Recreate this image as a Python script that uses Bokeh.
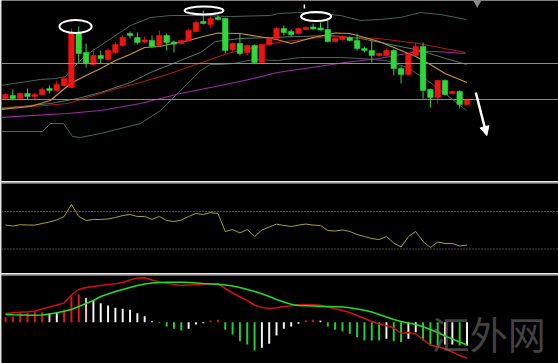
from bokeh.plotting import figure
from bokeh.layouts import column
from bokeh.models import Range1d, Span, Arrow, NormalHead, ColumnDataSource
from bokeh.core.properties import value
from bokeh.embed import file_html
from bokeh.resources import INLINE

# ---------------- data ----------------
opens = [82,85,82,87,84,86,92,90,95,93,148,128,116,125,121,128,135,147,143,139,
         140,135,145,138,137,140,149,159,156,163,162,131,137,128,135,118,136,142,152,149,
         147,151,153,152,151,139,141,143,140,132,130,125,125,130,112,106,125,134,91,83,
         100,87,89,76]
highs = [87,91,88,92,88,93,95,100,104,152,154,137,132,130,132,138,145,149,148,144,
         145,150,147,140,141,152,160,170,164,165,163,138,147,136,136,137,143,153,155,151,
         153,154,157,158,160,143,145,144,147,134,140,128,132,131,114,128,138,138,92,101,
         101,90,90,82]
lows = [81,80,81,81,80,85,87,89,94,92,117,113,115,117,120,127,134,142,136,137,
        133,134,130,128,136,139,148,156,153,160,127,129,125,125,117,117,135,141,145,144,
        146,150,151,150,138,138,140,139,130,128,118,124,124,105,97,105,124,82,73,77,
        85,86,72,75]
closes = [86,82,87,84,86,91,90,96,102,148,127,117,125,122,130,136,143,145,138,140,
          134,145,138,137,140,150,158,157,162,161,130,137,127,135,118,136,142,152,148,146,
          152,153,152,151,139,142,144,140,132,130,125,127,130,112,106,126,134,90,83,100,
          86,89,76,81]

# moving averages / bands: (candle index, value) knots
ma_fast_x = [-0.68,3.4,6.1,8,9,11,13,15,17,19,21,23,25,27,29,32,35,37,39,42,45,47,51,53,56,58,60,63]
ma_fast_y = [71,74,80,91.5,97.5,105,112,120,126,133,134,137,140,144,147.5,147,143.5,141,137,143,147.5,147,139,133,124,116,107,98]
ma_mid_x = [-0.68,6.14,9.83,12.97,17.06,19.8,23.89,26.62,28.67,32.08,36.18,40.27,44.37,48.46,52.56,56.66,60.07,62.94]
ma_mid_y = [72,77,82,88,98,108,120,128,139,142,143,144,145,142,136,130,122,116]
ma_red_x = [-0.68,3.82,8.46,12.97,15.7,18.43,22.1,24.85,27.58,30.3,32.08,37.13,44.1,50.92,56.38,62.8]
ma_red_y = [73,74,77,87,93,98,106,113,120,127,130,138,144,142,137,128]
ma_purple_x = [-0.68,8.46,12.97,18.43,23.89,29.35,33.86,37.13,41.77,46.42,50.92,53.24,56.38,58.7,62.8]
ma_purple_y = [63,67,70,77,87,95,102,108,113,118,122,125,129,129,127]
band_up_x = [-0.68,4.78,6.83,8.19,9.15,10.92,12.97,17.06,19.8,22.53,26.62,30.72,36.18,37.27,40.27,43,45.73,48.46,51.19,53.92,56.66,59.39,62.94]
band_up_y = [95,101,102,104,112,125,135,155,163,165,165,164,165,167,168,167,165,160,161,163,168,166,161]
band_lo_x = [-0.68,5.05,6.14,7.92,9.15,10.24,12.97,18.43,21.16,23.89,26.62,27.99,29.35,31.13,33.86,37.13,40.27,45.73,48.46,51.88,54.88,57.61,60.34,62.94]
band_lo_y = [49,49,57,57,44,43,47,57,70,90,110,116,116,117,121,120,123,123,122,120,113,100,85,70]
level_lines = [117, 81]

rsi = [55.6,54.5,55.9,55.6,55.5,57.2,58.8,60.9,64.7,77.5,64.7,60.4,61.5,61.5,62.0,63.6,65.7,66.8,64.7,64.7,
       61.5,64.7,60.4,59.3,60.9,64.7,67.9,66.8,68.9,67.9,48.7,50.8,47.1,50.8,43.3,50.3,53.5,56.5,55.1,54.0,
       55.5,56.6,55.5,55.1,49.7,49.2,50.3,48.7,45.5,43.3,41.2,40.1,43.3,36.4,32.1,43.3,48.7,38.0,31.6,37.5,
       35.9,35.9,33.2,34.2]
rsi_levels = [70, 30]

hist = [5.0,5.7,9.0,10.0,11.0,10.0,9.0,9.4,12.4,25.7,27.7,24.4,21.7,19.0,16.7,14.4,13.4,12.4,9.0,6.0,
        1.0,-0.8,-4.3,-6.6,-8.3,-6.6,-2.3,-1.0,1.7,2.4,-7.6,-12.3,-19.0,-22.3,-28.3,-25.6,-21.6,-13.3,-6.6,-4.3,
        -1.6,1.7,2.4,1.7,-4.3,-7.6,-9.0,-11.6,-15.0,-18.3,-18.3,-18.3,-16.6,-19.0,-20.0,-16.6,-10.0,-18.3,-23.3,-23.3,
        -22.3,-22.3,-23.3,-23.3]
hist_state = (["up"]*6 + ["fade", "rest"] + ["up"]*3 + ["fade"] + ["rest"]*9 + ["down"]*4 + ["rest"]*3 +
              ["up"]*2 + ["down"]*5 + ["rest"]*6 + ["up"]*2 + ["fade"] + ["down"]*8 + ["rest"] + ["down"]*2 +
              ["rest"]*2 + ["down"]*3 + ["rest"]*2 + ["down"] + ["rest"])
macd = [8.8,9.4,9.9,10.5,11.2,13.2,15.2,17.2,19.2,27.2,32.7,34.7,35.7,36.7,37.7,38.5,39.7,42.2,44.1,44.4,
        42.2,40.3,39.0,37.7,36.7,37.1,37.5,37.9,38.3,38.5,33.7,29.2,25.2,21.7,17.2,14.7,13.7,14.4,15.7,16.4,
        17.4,17.4,17.4,16.9,15.2,13.4,11.7,9.7,6.7,3.7,0.7,-1.7,-3.6,-5.8,-11.3,-10.3,-11.8,-17.3,-22.8,-24.6,
        -26.5,-29.8,-33.3,-36.1]
signal = [7.7,7.4,7.2,7.0,6.9,7.2,8.2,9.4,10.9,12.7,15.7,18.7,21.7,25.7,28.2,30.7,32.7,34.7,36.7,38.2,
          39.1,39.7,39.9,40.0,40.0,39.7,39.2,38.7,38.3,37.9,37.2,36.2,34.7,32.7,30.7,28.4,25.7,22.7,20.2,18.0,
          16.7,16.4,16.1,15.8,15.6,15.4,15.1,14.5,13.2,11.9,10.2,7.7,5.2,2.7,0.7,-0.9,-2.3,-4.6,-7.3,-10.3,
          -13.8,-16.8,-19.8,-22.8]

# annotations drawn on the chart
circle_x = [9.56, 27.1, 42.4]
circle_y = [154, 170, 164]
circle_w = [4.4, 5.3, 4.1]
circle_h = [13, 8, 9]
arrow_from = (64.2, 88)
arrow_to = (65.7, 45)
watermark = "汇外网"

# ---------------- styling ----------------
BG = "#000000"
EDGE = "#a4a4a4"
RED = "#ee1414"
GREEN = "#2fd83a"
XR = (-0.546, 75.49)

def panel(h, yr, top_border):
    p = figure(width=558, height=h, x_range=Range1d(*XR), y_range=Range1d(*yr),
               output_backend="svg", toolbar_location=None,
               x_axis_location=None, y_axis_location=None,
               min_border_left=1, min_border_right=0, min_border_bottom=0,
               min_border_top=top_border,
               background_fill_color=BG, border_fill_color=EDGE,
               outline_line_color=None)
    p.grid.visible = False
    return p

idx = list(range(len(opens)))

# ---- panel 1: price ----
p1 = panel(181, (-1, 180), 0)
for lv, col in zip(level_lines, ["#a09a2c", "#8a8a8a"]):
    p1.add_layout(Span(location=lv, dimension="width", line_color=col, line_width=1))

p1.line(band_up_x, band_up_y, line_color="#3d6a5c", line_width=1)
p1.line(band_lo_x, band_lo_y, line_color="#3d6a5c", line_width=1)
p1.line(ma_mid_x, ma_mid_y, line_color="#4f7f6e", line_width=1)
p1.line(ma_purple_x, ma_purple_y, line_color="#a028a8", line_width=1.2)
p1.line(ma_red_x, ma_red_y, line_color="#a81c1c", line_width=1.2)
p1.line(ma_fast_x, ma_fast_y, line_color="#c8962e", line_width=1.2)

colors = [RED if c > o else GREEN for o, c in zip(opens, closes)]
tops = [max(o, c) + (0.6 if abs(o - c) < 1.2 else 0) for o, c in zip(opens, closes)]
bots = [min(o, c) - (0.6 if abs(o - c) < 1.2 else 0) for o, c in zip(opens, closes)]
src = ColumnDataSource(dict(x=idx, h=highs, l=lows, t=tops, b=bots, c=colors))
p1.segment(x0="x", x1="x", y0="l", y1="h", line_color="c", line_width=1, source=src)
p1.vbar(x="x", top="t", bottom="b", width=0.76, fill_color="c", line_color="c", line_width=0.5, source=src)

p1.ellipse(x=circle_x, y=circle_y, width=circle_w, height=circle_h,
           fill_color=None, line_color="white", line_width=2)
p1.add_layout(Arrow(end=NormalHead(size=9, fill_color="white", line_color="white"),
                    x_start=arrow_from[0], y_start=arrow_from[1],
                    x_end=arrow_to[0], y_end=arrow_to[1],
                    line_color="white", line_width=2.5))
p1.segment(x0=[40.8], x1=[40.8], y0=[172], y1=[176], line_color="white", line_width=1.5)
p1.scatter(x=[64.4], y=[178], marker="inverted_triangle", size=9, fill_color="#8a8a8a", line_color=None)

# ---- panel 2: RSI ----
p2 = panel(92, (3.87, 99.87), 2)
for lv in rsi_levels:
    p2.add_layout(Span(location=lv, dimension="width", line_color="#8c8c8c", line_width=1, line_dash="1 2"))
p2.line(idx, rsi, line_color="#a8a030", line_width=1)

# ---- panel 3: MACD ----
p3 = panel(90, (-41.3, 46.7), 2)
state_col = {"up": "#e01818", "fade": "#f2c4c4", "rest": "#f4f4f4", "down": "#26cc33"}
hsrc = ColumnDataSource(dict(x=idx, top=hist, c=[state_col[s] for s in hist_state]))
p3.vbar(x="x", top="top", bottom=0, width=0.27, fill_color="c", line_color=None, source=hsrc)
p3.line(idx, macd, line_color="#d01010", line_width=1.5)
p3.line(idx, signal, line_color="#22dd22", line_width=1.5)
p3.text(x=[58.2], y=[-9.8], text=[watermark], text_font=value("Noto Sans CJK SC"),
        text_font_size="38px", text_color="#707070", text_alpha=0.6,
        text_baseline="middle", text_align="left")

layout = column(p1, p2, p3, spacing=0)
open("out.html", "w").write(file_html(layout, INLINE))
